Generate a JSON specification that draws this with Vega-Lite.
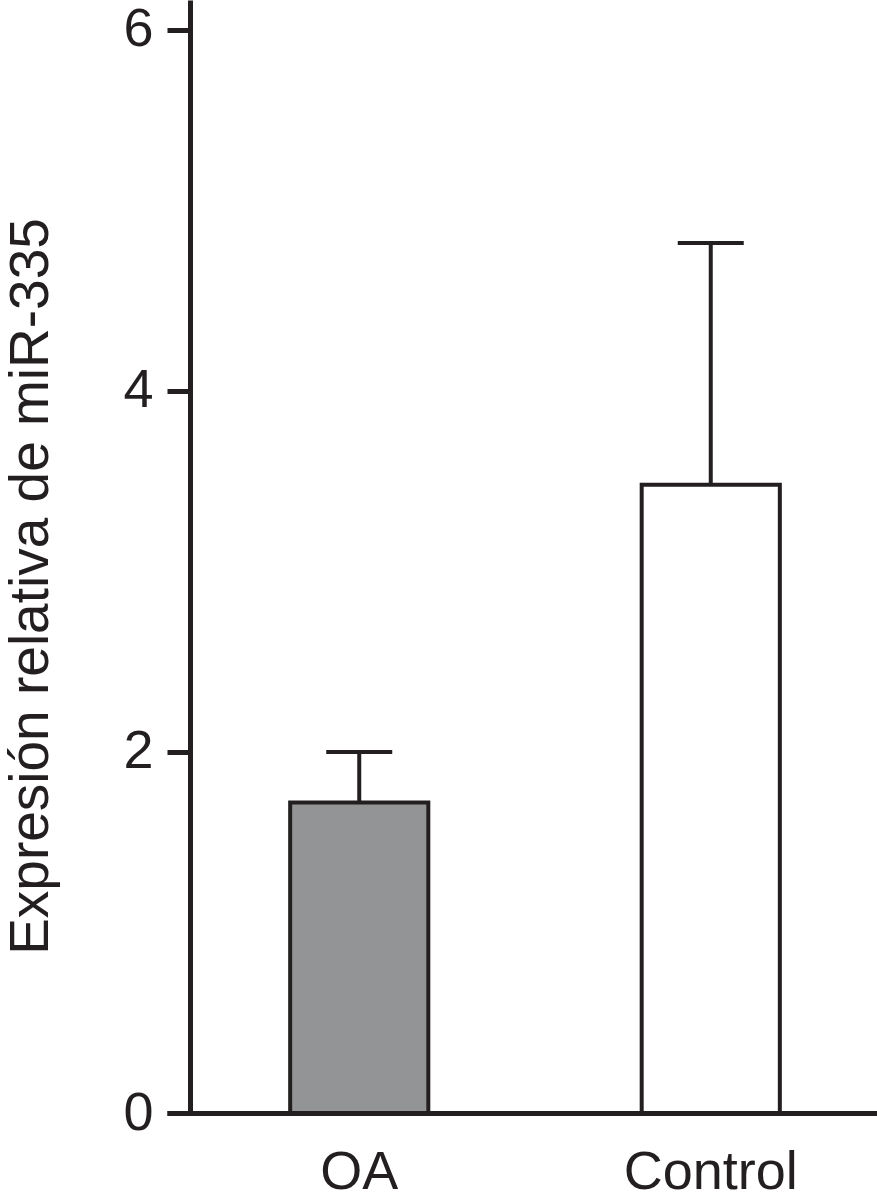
{
  "$schema": "https://vega.github.io/schema/vega-lite/v6.json",
  "width": 710,
  "height": 1113,
  "autosize": {"type": "none"},
  "padding": {"left": 167, "top": 0, "right": 0, "bottom": 91},
  "background": "white",
  "config": {
    "view": {"stroke": null},
    "font": "Liberation Sans",
    "axis": {"grid": false, "domainColor": "#231f20", "tickColor": "#231f20", "labelColor": "#231f20", "titleColor": "#231f20", "labelFont": "Liberation Sans", "titleFont": "Liberation Sans"}
  },
  "data": {
    "values": [
      {"group": "OA", "value": 1.72, "upper": 2.0},
      {"group": "Control", "value": 3.48, "upper": 4.82}
    ]
  },
  "encoding": {
    "x": {
      "field": "group",
      "type": "nominal",
      "sort": ["OA", "Control"],
      "scale": {"paddingInner": 0.607, "paddingOuter": 0.3134, "align": 0.559},
      "axis": {"title": null, "labelAngle": 0, "labelFontSize": 54, "labelFontWeight": "normal", "tickSize": 0, "ticks": false, "labelPadding": 32, "domainWidth": 5}
    }
  },
  "layer": [
    {
      "mark": {"type": "bar", "stroke": "#231f20", "strokeWidth": 4},
      "encoding": {
        "y": {
          "field": "value",
          "type": "quantitative",
          "scale": {"domain": [0, 6.166], "nice": false, "zero": true},
          "axis": {
            "title": "Expresión relativa de miR-335",
            "titleFontSize": 55,
            "titleFontWeight": "normal",
            "titlePadding": 63,
            "titleY": 586,
            "values": [0, 2, 4, 6],
            "format": "d",
            "labelFontSize": 54,
            "labelPadding": 14,
            "tickSize": 23,
            "tickWidth": 5,
            "domainWidth": 5,
            "offset": -23
          }
        },
        "fill": {
          "field": "group",
          "type": "nominal",
          "scale": {"domain": ["OA", "Control"], "range": ["#939495", "#ffffff"]},
          "legend": null
        }
      }
    },
    {
      "mark": {"type": "rule", "stroke": "#231f20", "strokeWidth": 4},
      "encoding": {
        "y": {"field": "value", "type": "quantitative"},
        "y2": {"field": "upper"}
      }
    },
    {
      "mark": {"type": "tick", "color": "#231f20", "opacity": 1, "size": 66, "thickness": 4, "orient": "horizontal"},
      "encoding": {
        "y": {"field": "upper", "type": "quantitative"}
      }
    }
  ]
}
